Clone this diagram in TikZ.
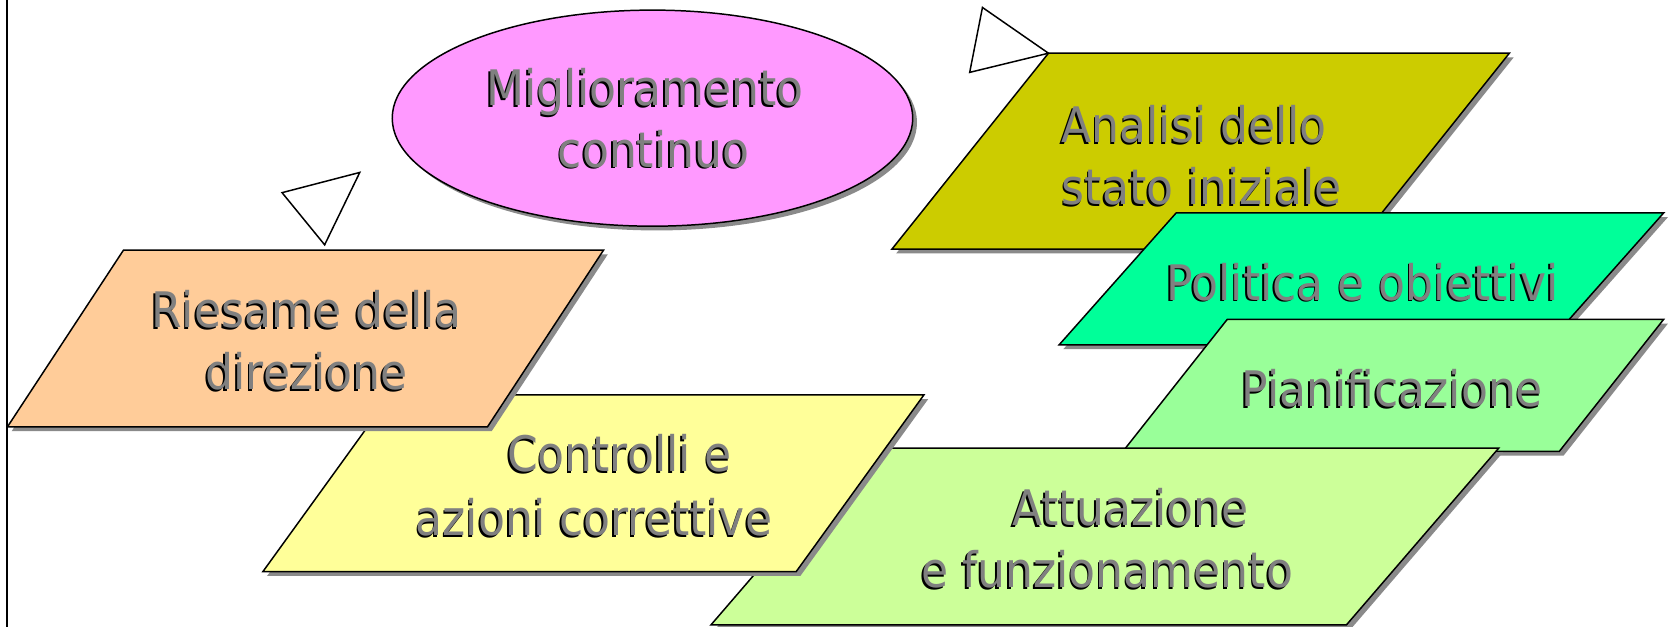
\documentclass[tikz,border=0pt]{standalone}
\usepackage{fontspec}
\setmainfont{DejaVu Sans}[FakeStretch=0.9]
\definecolor{textgray}{HTML}{808080}
\definecolor{shadowgray}{HTML}{8A8A8A}
\definecolor{cMig}{HTML}{FF99FF}
\definecolor{cAna}{HTML}{CCCC00}
\definecolor{cPol}{HTML}{00FF99}
\definecolor{cPia}{HTML}{99FF99}
\definecolor{cAtt}{HTML}{CCFF99}
\definecolor{cCon}{HTML}{FFFF99}
\definecolor{cRie}{HTML}{FFCC99}
\newcommand\paral[5]{%
  \fill[shapeshadow, shift={(4,4)}] #2 -- #3 -- #4 -- #5 -- cycle;
  \filldraw[shapeline, fill=#1] #2 -- #3 -- #4 -- #5 -- cycle;}
\newcommand\stxt[3]{%
  \node[txtshadow] (#1-s) at (#2) {#3};
  \node[txt] (#1) at (#2) {#3};}
\begin{document}
\begin{tikzpicture}[x=0.5pt,y=-0.5pt,
  shapeline/.style={draw=black, line width=0.7pt, line join=miter},
  shapeshadow/.style={fill=shadowgray},
  txt/.style={font=\fontsize{23}{30}\selectfont, text=textgray, inner sep=0pt, anchor=base},
  txtshadow/.style={txt, text=black, xshift=-0.8pt, yshift=-0.8pt},
  tri/.style={draw=black, line width=0.7pt, fill=white, line join=miter}]
\useasboundingbox (0,0) rectangle (1568,589);
\fill[white] (0,0) rectangle (1568,589);
% left border line
\draw[line width=1pt] (6.5,0) -- (6.5,589);
% ellipse
\fill[shapeshadow] (617,115) ellipse [x radius=122.25pt, y radius=50.75pt];
\filldraw[shapeline, fill=cMig] (613,111) ellipse [x radius=122.25pt, y radius=50.75pt];
% triangles
\draw[tri] (265,181) -- (338,162) -- (305,230) -- cycle;
\draw[tri] (923,7) -- (985,50) -- (911,68) -- cycle;
% parallelograms, back to front
\paral{cAna}{(985,50)}{(1418,50)}{(1271,234)}{(838,234)}
\paral{cPol}{(1105,200)}{(1563,200)}{(1453,324)}{(995,324)}
\paral{cPia}{(1153,300)}{(1563,300)}{(1465,424)}{(1055,424)}
\paral{cAtt}{(811,421)}{(1408,421)}{(1265,587)}{(668,587)}
\paral{cCon}{(367,371)}{(868,371)}{(748,537)}{(247,537)}
\paral{cRie}{(116,235)}{(567,235)}{(458,401)}{(7,401)}
% texts
\stxt{mig1}{606,99}{Miglioramento}
\stxt{mig2}{614,157}{continuo}
\stxt{ana1}{1122,134}{Analisi dello}
\stxt{ana2}{1129,192}{stato iniziale}
\stxt{pol}{1280,282}{Politica e obiettivi}
\stxt{pia}{1308,382}{Pianificazione}
\stxt{rie1}{288,308}{Riesame della}
\stxt{rie2}{288,366}{direzione}
\stxt{con1}{582,443}{Controlli e}
\stxt{con2}{558,503}{azioni correttive}
\stxt{att1}{1062,494}{Attuazione}
\stxt{att2}{1040,552}{e funzionamento}
\end{tikzpicture}
\end{document}
